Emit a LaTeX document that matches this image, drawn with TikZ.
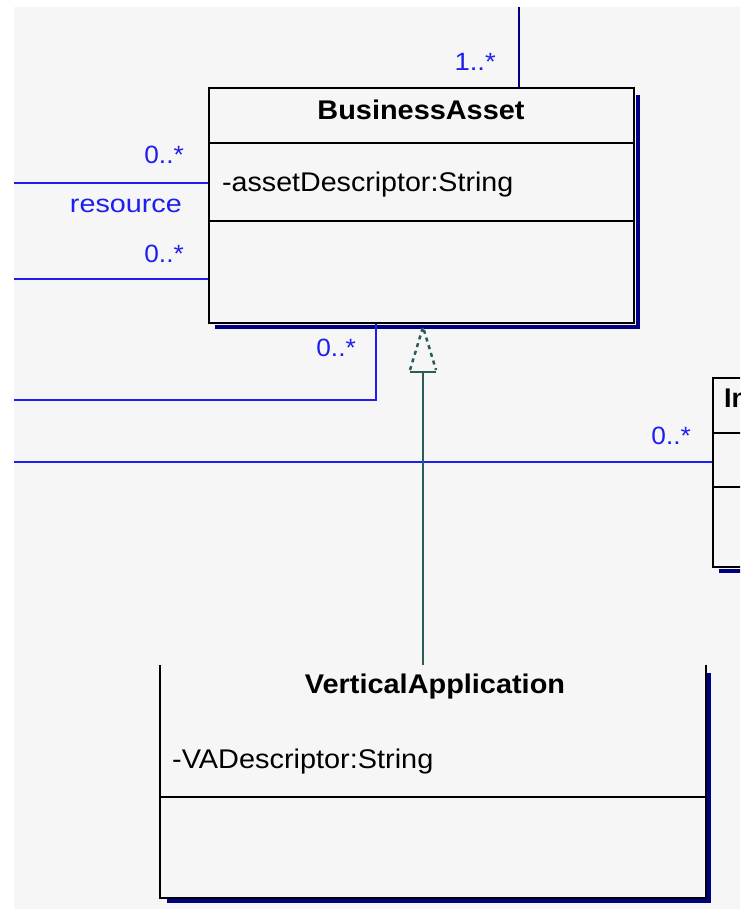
\documentclass[tikz,border=0pt]{standalone}
\usepackage{graphicx}
\usepackage{fontspec}
\setmainfont{Liberation Sans}
\usetikzlibrary{calc}
\definecolor{bg}{HTML}{F6F6F6}
\definecolor{assoc}{HTML}{1E1EF0}
\definecolor{navy}{HTML}{000080}
\definecolor{gen}{HTML}{2B5B5B}
\newcommand{\hstretch}[2]{\scalebox{#1}[1]{#2}}
\begin{document}
\begin{tikzpicture}[x=1pt,y=-1pt,
  classbox/.style={draw=black, line width=2pt, fill=bg, inner sep=0pt, anchor=north west},
  openbox/.style={inner sep=0pt, anchor=north west},
  boxline/.style={draw=black, line width=2pt},
  shadowline/.style={draw=navy, line width=4pt},
  assocline/.style={draw=assoc, line width=2pt},
  topline/.style={draw=navy, line width=2pt},
  genline/.style={draw=gen, line width=2.5pt},
  mult/.style={text=assoc, inner sep=0pt, font=\fontsize{25}{28}\selectfont},
  classname/.style={inner sep=0pt, font=\bfseries\fontsize{27}{30}\selectfont},
  attr/.style={inner sep=0pt, anchor=west, font=\fontsize{27}{30}\selectfont}]
\useasboundingbox (0,0) rectangle (740,909);
\clip (0,0) rectangle (740,909);
\fill[bg] (14,7) rectangle (740,909);

% BusinessAsset
\node[classbox, minimum width=425pt, minimum height=235pt] (ba) at (208,87) {};
\draw[shadowline] ($(ba.north east)+(3,8)$) -- ($(ba.south east)+(3,3)$) -- ($(ba.south west)+(7,3)$);
\draw[boxline] (208,143) -- (633,143);
\draw[boxline] (208,221) -- (633,221);
\node[classname] (batitle) at (421,110) {\hstretch{1.07}{BusinessAsset}};
\node[attr] (baattr) at (222,185) {\hstretch{1.06}{-assetDescriptor:String}};

% Right class (cut off at the picture edge)
\node[classbox, minimum width=100pt, minimum height=189pt] (ib) at (712,377) {};
\draw[shadowline] ($(ib.south west)+(7,3)$) -- ($(ib.south east)+(3,3)$);
\draw[boxline] (712,433) -- (812,433);
\draw[boxline] (712,487) -- (812,487);
\node[classname, anchor=west] (ibtitle) at (724,398) {In};

% VerticalApplication (top edge not drawn)
\node[openbox, minimum width=546pt, minimum height=233pt] (va) at (160,665) {};
\draw[boxline] (va.north west) -- (va.south west) -- (va.south east) -- (va.north east);
\draw[shadowline] ($(va.north east)+(3,8)$) -- ($(va.south east)+(3,3)$) -- ($(va.south west)+(7,3)$);
\draw[boxline] (160,797) -- (706,797);
\node[classname] (vatitle) at (435,687) {\hstretch{1.07}{VerticalApplication}};
\node[attr] (vaattr) at (172,762) {\hstretch{1.07}{-VADescriptor:String}};

% association from top
\coordinate (t1) at (519,7);
\draw[topline] (t1) -- (t1 |- ba.north);
\node[mult, anchor=east] (m1) at (496,62) {\hstretch{1.1}{1..*}};

% left associations
\coordinate (l1) at (14,183);
\draw[assocline] (l1) -- (l1 -| ba.west);
\node[mult, anchor=east] (m2) at (184,155) {\hstretch{1.05}{0..*}};
\node[mult, anchor=east] (role) at (182,206) {\hstretch{1.15}{resource}};
\coordinate (l2) at (14,279);
\draw[assocline] (l2) -- (l2 -| ba.west);
\node[mult, anchor=east] (m3) at (184,254) {\hstretch{1.05}{0..*}};

\coordinate (l3) at (14,400);
\coordinate (c3) at (376,400);
\draw[assocline] (l3) -- (c3) -- (c3 |- ba.south);
\node[mult, anchor=east] (m4) at (356,348) {\hstretch{1.05}{0..*}};

\coordinate (l4) at (14,462);
\draw[assocline] (l4) -- (l4 -| ib.west);
\node[mult, anchor=east] (m5) at (691,436) {\hstretch{1.05}{0..*}};

% generalization
\coordinate (g) at (423,665);
\coordinate (apex) at ($(g |- ba.south)+(0,3)$);
\draw[genline] (g) -- ($(apex)+(0,45)$);
\draw[genline] ($(apex)+(-13,45)$) -- ($(apex)+(13,45)$);
\draw[genline, dash pattern=on 4pt off 4pt] ($(apex)+(-13,43)$) -- (apex) -- ($(apex)+(13,43)$);
\end{tikzpicture}
\end{document}
